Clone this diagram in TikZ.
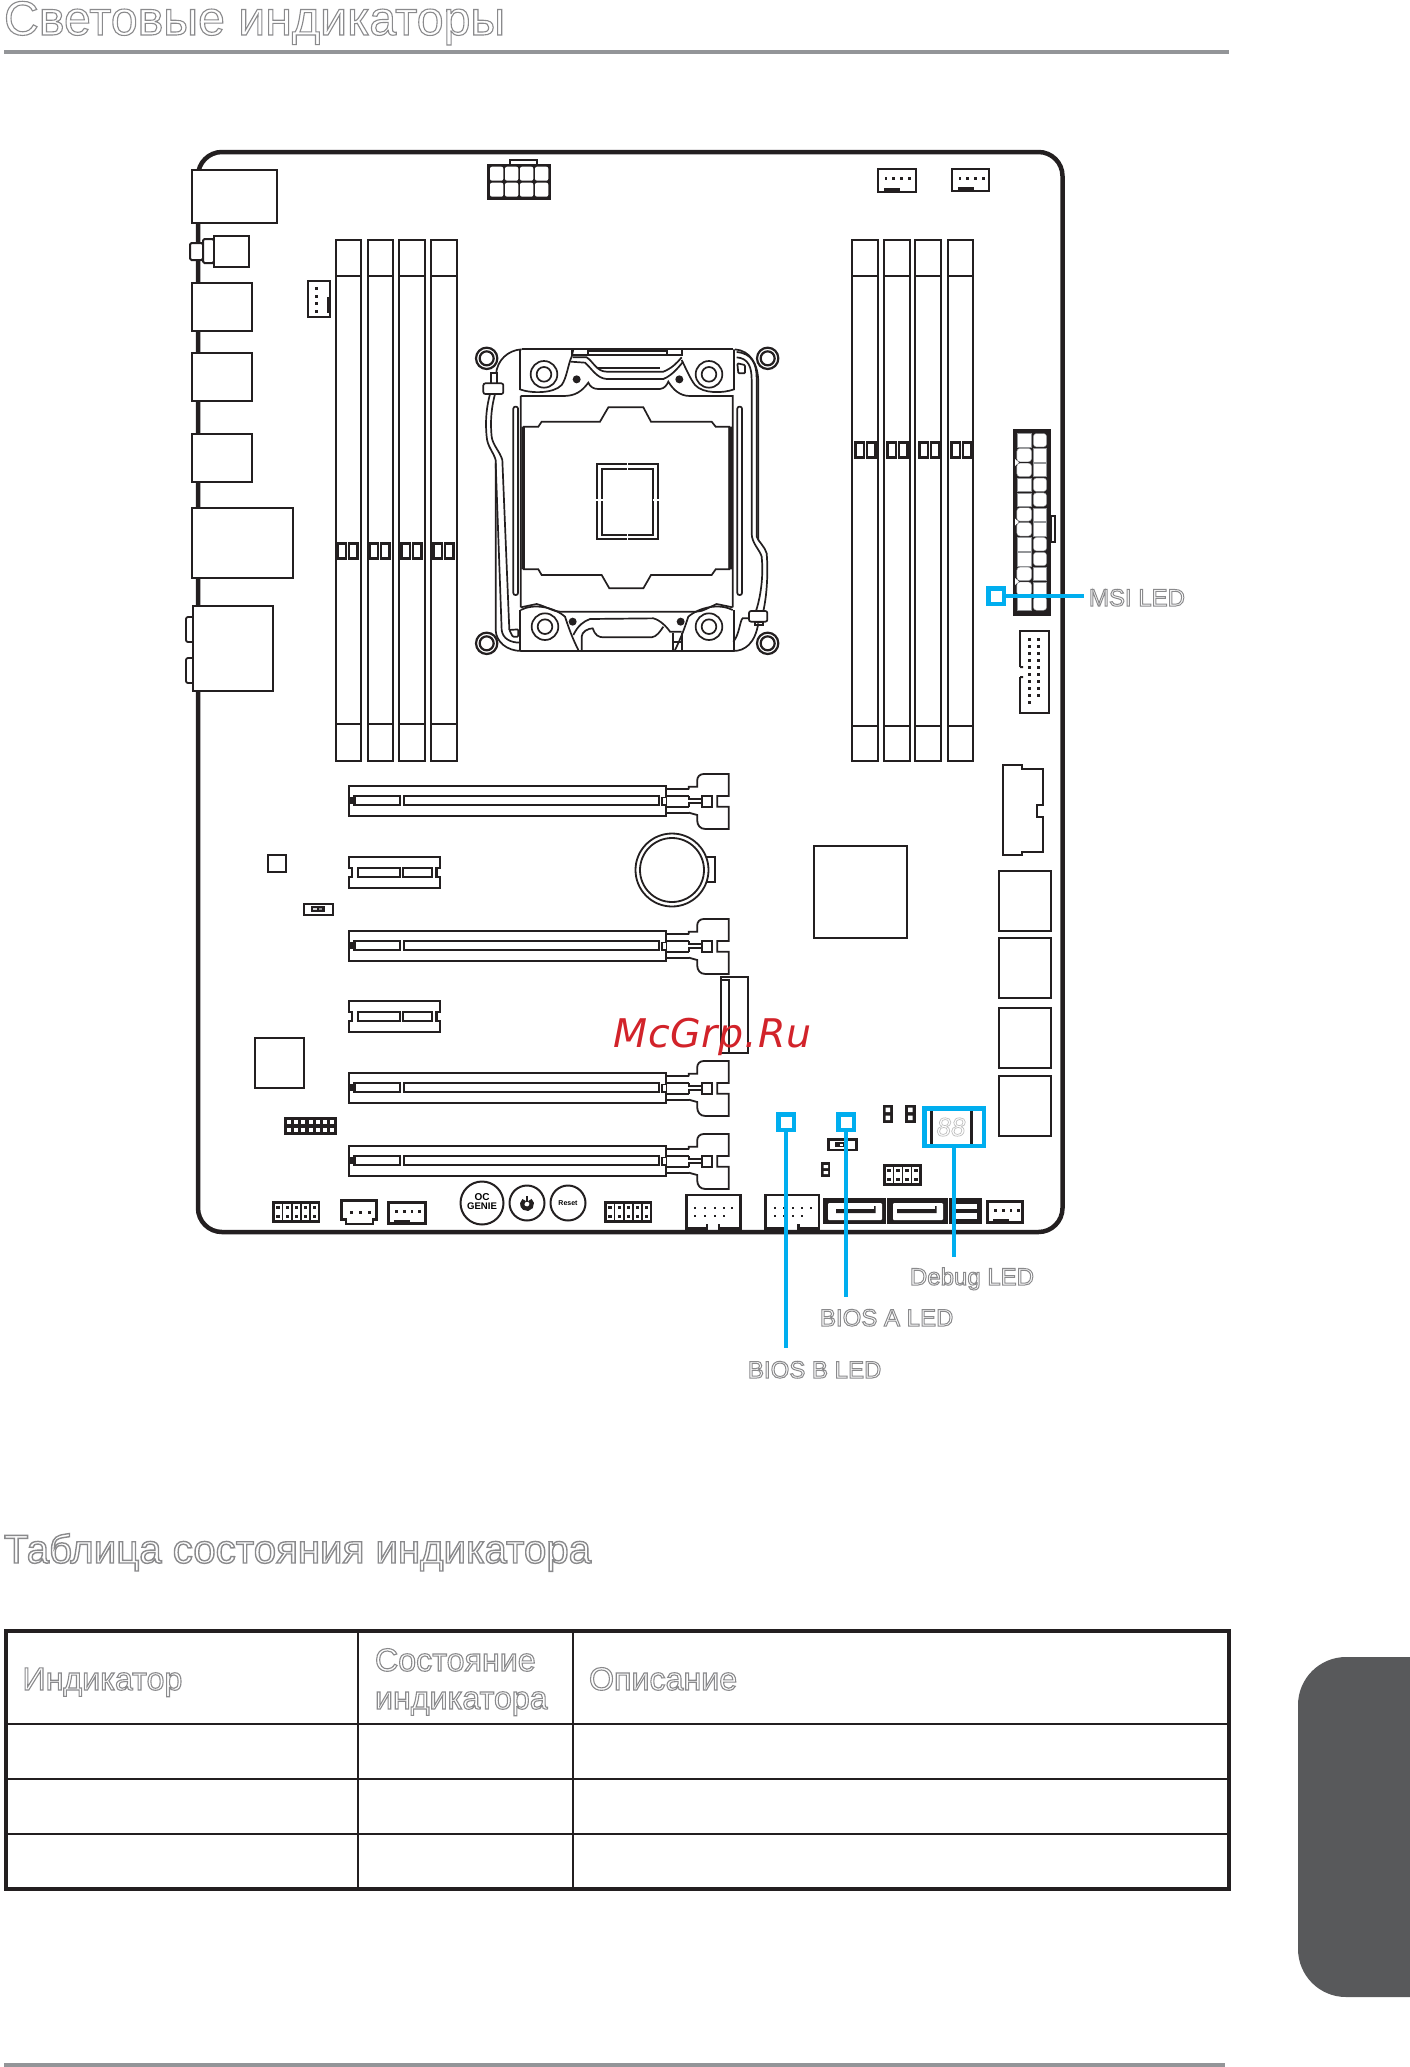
\documentclass[tikz,border=0pt]{standalone}
\usepackage{fontspec}
\setmainfont{Liberation Sans}
\newfontfamily\wmfont[LetterSpace=2]{DejaVu Sans Oblique}
\definecolor{ink}{HTML}{231F20}
\definecolor{ledblue}{HTML}{00AEEF}
\definecolor{rulegrey}{HTML}{939598}
\definecolor{labgrey}{HTML}{8A8A8C}
\definecolor{tabgrey}{HTML}{58595B}
\definecolor{wmred}{HTML}{D2232A}
\newcommand\hollow[2]{\special{pdf:code 1 Tr #1 w}#2\special{pdf:code 0 Tr}}
\newcommand\fs[1]{\fontsize{#1}{#1}\selectfont}
\tikzset{
  lab/.style={anchor=base west,inner sep=0pt,outer sep=0pt,text=labgrey},
  bx/.style={draw=ink,line width=2.5pt,fill=white},
  thinbx/.style={draw=ink,line width=1.8pt,fill=white},
  ledbox/.style={draw=ledblue,line width=4.5pt,inner sep=0pt,rectangle},
  ledline/.style={draw=ledblue,line width=3.6pt},
  cpu/.style={draw=ink,line width=1.7pt},
  btn/.style={draw=ink,line width=2pt,circle,inner sep=0pt,fill=white},
}
\newcommand\bigslot[1]{\begin{scope}[shift={(330.5,#1)},scale=1/3]
 \draw[ink,line width=2.2pt,fill=white] (55,78) rectangle (1007,168);
 \draw[ink,line width=2.5pt] (72,108) rectangle (208,135) (220,108) rectangle (985,135);
 \fill[ink] (57,112) rectangle (72,132);
 \draw[ink,line width=1.5pt,fill=white] (1007,112) -- (995,112) -- (995,135) -- (1007,135);
 \draw[ink,line width=1.8pt] (1007,88) -- (1075,88) (1007,108) -- (1075,108) (1007,142) -- (1075,142) (1007,158) -- (1075,158);
 \draw[ink,line width=1.8pt] (1075,88) -- (1075,80) -- (1100,80) -- (1100,62) .. controls (1100,50) and (1108,42) .. (1120,42) -- (1195,42) -- (1195,108) -- (1160,108) -- (1160,140) -- (1195,140) -- (1195,207) -- (1125,207) .. controls (1110,207) and (1100,197) .. (1100,180) -- (1100,165) -- (1075,158);
 \draw[ink,line width=1.8pt] (1075,108) -- (1075,118) -- (1115,118) (1075,142) -- (1075,130) -- (1115,130);
 \draw[ink,line width=1.8pt] (1115,108) rectangle (1145,140);
\end{scope}}
\newcommand\smallslot[1]{\begin{scope}[shift={(330.5,#1)},scale=1/3]
 \draw[ink,line width=2.2pt,fill=white] (55,290) -- (328,290) -- (328,325) -- (318,325) -- (318,350) -- (328,350) -- (328,385) -- (55,385) -- (55,350) -- (65,350) -- (65,325) -- (55,325) -- cycle;
 \draw[ink,line width=2.4pt] (82,324) rectangle (208,351);
 \draw[ink,line width=2pt] (218,324) rectangle (305,351);
\end{scope}}
\newcommand\dimm[3]{%
 \draw[ink,line width=2.6pt,fill=white] (#1,240) rectangle (#2,761);
 \draw[ink,line width=2pt] (#1,276) -- (#2,276) (#1,#3) -- (#2,#3);}
\newcommand\dimmclip[2]{%
 \draw[ink,line width=2.2pt] (#1,#2) rectangle ++(8.5,15);
 \draw[ink,line width=2.2pt] ({#1+11.5},#2) rectangle ++(8.5,15);}
\newcommand\pinhdr[5]{%
 \draw[ink,line width=2.4pt,fill=white] (#1,#2) rectangle ++({#3*#4},#5);
 \foreach \i in {1,...,#3}{
   \ifnum\i<#3 \draw[ink,line width=1.6pt] ({#1+\i*#4},#2) -- ++(0,#5);\fi
   \fill[ink] ({#1+(\i-.5)*#4-1.6},{#2+#5*.25-1.5}) rectangle ++(3.2,3);
   \fill[ink] ({#1+(\i-.5)*#4-1.6},{#2+#5*.72-1.5}) rectangle ++(3.2,3);
 }}
\newcommand\fanhdr[4]{%
 \draw[ink,line width=2.4pt,fill=white] (#1,#2) rectangle ++(#3,#4);
 \foreach \i in {0,1,2,3} \fill[ink] ({#1+6.5+\i*7.8},{#2+9-1.5}) rectangle ++(2.8,3);
 \fill[ink] ({#1+5.5},{#2+#4-4}) rectangle ++(16,4);}
\begin{document}
\begin{tikzpicture}[x=1pt,y=-1pt]
\useasboundingbox (0,0) rectangle (1410,2067);
\fill[white] (0,0) rectangle (1410,2067);
\node[minimum size=1pt] (t0) at (100,100) {};
\path[pa/.style={}] (t0.south) -- (1,1);
\node[lab] (title) at (4,35) {\fs{48.3}\hollow{1.1}{Световые индикаторы}};
\fill[rulegrey] (4,50) rectangle (1229,54);
\draw[ink,line width=4.5pt,rounded corners=24pt] (198,152) rectangle (1062.5,1232);
\draw[bx] (192,170) rectangle (277,223);
\draw[ink,line width=2pt,fill=white,rounded corners=1.5pt] (190,243) rectangle (203,260);
\draw[ink,line width=2pt,fill=white,rounded corners=1.5pt] (203,239) rectangle (214,263);
\draw[bx] (214,236) rectangle (249,267);
\draw[bx] (192,283) rectangle (252,331);
\draw[bx] (192,353) rectangle (252,401);
\draw[bx] (192,434) rectangle (252,482);
\draw[bx,line width=2.8pt] (192,508) rectangle (293,578);
\draw[ink,line width=1.8pt,fill=white,rounded corners=2pt] (186,617) rectangle (195,642);
\draw[ink,line width=1.8pt,fill=white,rounded corners=2pt] (186,658) rectangle (195,683);
\draw[bx,line width=2pt] (193,606) rectangle (273,691);
\path[pb/.style={}] (t0.south) -- (1,1);
\draw[ink,line width=1.8pt,fill=white] (510,160) rectangle (537,166);
\fill[ink] (486.7,164) rectangle (551,200);
\foreach \c in {0,1,2,3}{
  \fill[white,rounded corners=2pt] ({490+\c*15},166.7) rectangle ++(13.3,14);
  \fill[white,rounded corners=2pt] ({490+\c*15},182.7) rectangle ++(13.3,14);
}
\fanhdr{878}{169}{38}{23}
\fanhdr{952}{169}{37}{22}
\path[pc/.style={}] (t0.south) -- (1,1);
\draw[ink,line width=2.2pt,fill=white] (308,281) rectangle (330,317);
\foreach \yy in {287,295,302,310} \fill[ink] (314.5,\yy) rectangle ++(3,3);
\fill[ink] (326.5,297) rectangle (329,313);
\dimm{336}{361}{724}\dimm{368}{393}{724}\dimm{399}{425}{724}\dimm{431}{457}{724}
\dimm{852}{878}{726}\dimm{884}{910}{726}\dimm{915}{941}{726}\dimm{948}{973}{726}
\foreach \xx in {337.5,369.5,401.5,433.5} \dimmclip{\xx}{543.5}
\foreach \xx in {855.5,887.5,919.5,951.5} \dimmclip{\xx}{442.5}
\path[pd/.style={}] (t0.south) -- (1,1);
\begin{scope}[shift={(450,320)},scale=1/3]
 \foreach \p in {(110,115),(953,115),(110,970),(953,970)}{
   \draw[ink,line width=2.2pt] \p circle (32);
   \draw[ink,line width=2.2pt] \p circle (21);
 }
 \draw[cpu] (215,88) -- (850,88);
 \draw[cpu] (215,88) .. controls (175,90) and (140,120) .. (138,165);
 \draw[cpu] (855,88) .. controls (900,92) and (925,130) .. (925,190) -- (925,660);
 \draw[cpu] (137,420) -- (137,930) .. controls (138,965) and (170,993) .. (215,993) -- (850,993) .. controls (885,993) and (915,970) .. (925,910);
 \draw[cpu] (210,88) -- (210,208) .. controls (240,220) and (310,222) .. (335,195) .. controls (350,175) and (355,130) .. (365,110) -- (370,88);
 \draw[cpu] (852,88) -- (852,208) .. controls (820,220) and (760,222) .. (735,195) .. controls (720,175) and (710,150) .. (695,120);
 \draw[cpu] (212,228) -- (340,228) .. controls (375,228) and (395,215) .. (415,188) .. controls (420,200) and (430,207) .. (445,207) -- (630,207) .. controls (645,205) and (650,195) .. (655,185) .. controls (670,210) and (690,228) .. (720,228) -- (848,228) -- (848,862) (212,228) -- (212,862);
 \draw[cpu] (368,112) -- (410,112) .. controls (430,125) and (440,155) .. (470,155) -- (640,155) .. controls (665,145) and (680,130) .. (695,112);
 \draw[cpu] (362,125) -- (405,128) .. controls (425,145) and (440,175) .. (470,177) -- (640,177) .. controls (670,165) and (690,135) .. (700,125);
 \draw[cpu] (445,143) -- (630,143) (415,92) -- (650,92) (415,105) -- (650,105);
 \draw[cpu] (365,88) rectangle (415,105) (650,88) rectangle (695,105);
 \draw[cpu] (222,320) -- (265,320) -- (275,305) -- (450,305) -- (475,262) -- (580,262) -- (603,305) -- (785,305) -- (797,320) -- (838,320) -- (838,748) -- (797,748) -- (785,765) -- (603,765) -- (580,805) -- (478,805) -- (455,765) -- (275,765) -- (265,748) -- (222,748) -- cycle;
 \fill[ink] (214,320) rectangle (224,748) (836,320) rectangle (846,748);
 \draw[cpu,rounded corners=2pt] (190,260) rectangle (204,825);
 \draw[cpu,rounded corners=2pt] (862,260) rectangle (876,825);
 \draw[ink,line width=1.8pt] (440,432) rectangle (625,658);
 \draw[ink,line width=2.2pt] (456,447) rectangle (610,645);
 \draw[white,line width=1.5pt] (532,430) -- (532,449) (532,643) -- (532,660) (438,540) -- (458,540) (608,540) -- (627,540);
 \foreach \p in {(282,163),(777,163),(285,920),(777,920)}{
   \draw[cpu] \p circle (40);
   \draw[cpu] \p circle (22);
 }
 \foreach \p in {(380,178),(688,178),(368,905),(692,905)} \fill[ink] \p circle (12);
 \draw[cpu,fill=white] (122,160) rectangle (140,192);
 \draw[cpu,fill=white,rounded corners=2pt] (100,190) rectangle (160,222);
 \draw[cpu] (120,222) .. controls (110,260) and (105,300) .. (110,350) .. controls (112,380) and (130,395) .. (137,420);
 \draw[cpu] (135,222) .. controls (125,260) and (120,300) .. (125,350) .. controls (128,375) and (150,395) .. (157,420) -- (178,930);
 \draw[cpu] (137,430) -- (155,930) .. controls (158,955) and (180,968) .. (210,968);
 \draw[cpu,rounded corners=1pt] (178,930) -- (205,928) -- (205,950) -- (188,950) -- cycle;
 \draw[cpu] (860,112) .. controls (895,115) and (905,140) .. (905,180) -- (905,640) .. controls (905,670) and (930,690) .. (935,710) .. controls (940,760) and (935,820) .. (918,873);
 \draw[cpu] (860,96) .. controls (905,100) and (920,130) .. (920,175) -- (920,650) .. controls (925,665) and (945,680) .. (950,700) .. controls (955,760) and (950,830) .. (940,873);
 \draw[cpu,rounded corners=1pt] (862,130) -- (885,135) -- (885,160) -- (865,160) -- cycle;
 \draw[cpu,fill=white,rounded corners=2pt] (897,873) rectangle (952,905);
 \draw[cpu] (897,895) -- (878,895) .. controls (870,900) and (868,945) .. (850,965);
 \draw[cpu] (915,905) rectangle (940,915);
 \draw[cpu] (212,870) .. controls (250,850) and (310,860) .. (345,890) .. controls (355,920) and (365,950) .. (385,990);
 \draw[cpu] (848,870) .. controls (810,850) and (750,860) .. (715,890) .. controls (705,920) and (695,950) .. (675,990);
 \draw[cpu] (212,862) -- (260,852) .. controls (290,860) and (310,875) .. (330,875) -- (740,875) .. controls (760,875) and (780,860) .. (800,852) -- (848,862);
 \draw[cpu] (210,870) -- (210,993) (852,870) -- (852,993);
 \draw[cpu] (370,945) .. controls (385,915) and (400,905) .. (420,897) -- (610,895) .. controls (630,900) and (650,920) .. (660,935) -- (695,935);
 \draw[cpu] (395,990) -- (395,950) .. controls (395,935) and (415,925) .. (428,925) .. controls (435,945) and (445,952) .. (460,952) -- (605,952) .. controls (620,950) and (630,935) .. (640,920);
 \draw[cpu] (670,940) -- (670,990) (695,940) -- (695,990) (672,965) -- (695,965);
\end{scope}
\path[pe/.style={}] (t0.south) -- (1,1);
\fill[ink] (1013.3,429.3) rectangle (1050.7,615.7);
\draw[ink,line width=1.8pt,fill=white] (1051,516) rectangle (1055,542);
\foreach \r/\ra/\rb in {0/0/3,1/3/0,2/3/0,3/0/3,4/0/3,5/3/0,6/3/0,7/0/3,8/0/3,9/3/0,10/3/0,11/0/3}{
  \path[draw=rulegrey,line width=.4pt,fill=white,rounded corners=\ra pt] (1016.9,{433.5+\r*14.85}) rectangle ++(14.6,13.4);
  \path[draw=rulegrey,line width=.4pt,fill=white,rounded corners=\rb pt] (1033.4,{433.5+\r*14.85}) rectangle ++(13.2,13.4);
}
\foreach \yy in {462.5,522,581.5} \fill[white] (1015,{\yy-3.5}) -- (1019,\yy) -- (1015,{\yy+3.5}) -- cycle;
\draw[ink,line width=2.2pt,fill=white] (1020,667) -- (1020,631) -- (1049,631) -- (1049,713) -- (1020,713) -- (1020,677);
\fill[ink] (1020,666) rectangle (1023,668) (1020,676) rectangle (1023,678);
\foreach \i in {0,...,9}{
  \fill[ink] (1028,{637.5+\i*7.1}) rectangle ++(3,3);
  \ifnum\i<9 \fill[ink] (1037,{637.5+\i*7.1}) rectangle ++(3,3);\fi
}
\path[pf/.style={}] (t0.south) -- (1,1);
\draw[thinbx] (1003,765) -- (1022,765) -- (1022,769) -- (1043,769) -- (1043,805) -- (1037,805) -- (1037,817) -- (1043,817) -- (1043,852) -- (1022,852) -- (1022,855) -- (1003,855) -- cycle;
\foreach \yy in {871,938,1008,1076}
  \draw[ink,line width=2.2pt,fill=white] (999,\yy) rectangle ++(52,60);
\path[pg/.style={}] (t0.south) -- (1,1);
\bigslot{760}\bigslot{905}\bigslot{1047}\bigslot{1120}
\smallslot{760}\smallslot{904}
\path[ph/.style={}] (t0.south) -- (1,1);
\draw[ink,line width=1.8pt,fill=white] (706,857) -- (715,857) -- (715,882) -- (706,882);
\draw[ink,line width=1.8pt,fill=white] (672,870) circle (36.5);
\draw[ink,line width=1.8pt] (672,870) circle (32);
\draw[thinbx] (814,846) rectangle (907,938);
\draw[bx] (255,1038) rectangle (304,1088);
\draw[ink,line width=2.6pt] (268,855) rectangle (286,872);
\draw[ink,line width=2.4pt,fill=white] (304,904) rectangle (333,915);
\fill[ink] (311,906) rectangle (325,912);
\fill[rulegrey!40] (313,908) rectangle (317,910);
\fill[rulegrey] (319,908) rectangle (322,910);
\draw[ink,line width=1.8pt] (721,977) rectangle (748,1053);
\draw[ink,line width=1.5pt] (729,1053) -- (729,980) -- (721,980);
\fill[ink] (284,1117) rectangle (337,1135);
\foreach \c in {0,...,6}{
  \fill[white] ({287+\c*7.2},1120) rectangle ++(4,4.2);
  \fill[white] ({287+\c*7.2},1128) rectangle ++(4,4.2);
}
\pinhdr{273.5}{1202.5}{5}{9.1}{19}
\pinhdr{605.5}{1202.5}{5}{9.1}{19}
\draw[ink,line width=2.2pt,fill=white] (341.5,1200.5) -- (376.5,1200.5) -- (376.5,1219.5) -- (373,1219.5) -- (373,1224) -- (346,1224) -- (346,1219.5) -- (341.5,1219.5) -- cycle;
\foreach \xx in {350,359,368} \fill[ink] (\xx,1211) rectangle ++(2.6,2.6);
\fanhdr{388.5}{1202.5}{37}{21}
\path[pi/.style={}] (t0.south) -- (1,1);
\node[btn,minimum size=43pt] (ocg) at (482,1203) {};
\node[inner sep=0pt] (octext) at (482,1197) {\fs{10}\bfseries OC};
\node[inner sep=0pt] (gentext) at (482,1206.5) {\fs{9.6}\bfseries GENIE};
\node[btn,minimum size=35pt] (pwr) at (527,1203) {};
\draw[ink,line width=4.2pt] (527,1204) ++(-55:4.8) arc[start angle=-55,end angle=235,radius=4.8];
\draw[ink,line width=2.4pt] (527,1196) -- (527,1202);
\node[btn,minimum size=35pt] (rst) at (568,1203) {};
\node[inner sep=0pt] (rsttext) at (568,1203) {\fs{7}\bfseries Reset};
\path[pj/.style={}] (t0.south) -- (1,1);
\draw[ink,line width=2.2pt,fill=white] (707,1224) -- (707,1228.5) -- (686.5,1228.5) -- (686.5,1195) -- (740.5,1195) -- (740.5,1228.5) -- (719,1228.5) -- (719,1224);
\foreach \xx in {694,704,714,723,731} \fill[ink] (\xx,1207) rectangle ++(2.4,2.4);
\foreach \xx in {694,704,714,723} \fill[ink] (\xx,1215) rectangle ++(2.4,2.4);
\draw[ink,line width=2.2pt,fill=white] (786,1224) -- (786,1228.5) -- (765.5,1228.5) -- (765.5,1195) -- (819,1195) -- (819,1228.5) -- (798.5,1228.5) -- (798.5,1224);
\foreach \xx in {774,783,792,801,810} \fill[ink] (\xx,1207) rectangle ++(2.4,2.4);
\foreach \xx in {774,783,792,801} \fill[ink] (\xx,1215) rectangle ++(2.4,2.4);
\fill[ink] (823,1198) rectangle (886,1224);
\fill[ink] (887,1198) rectangle (948,1224);
\fill[ink] (949,1198) rectangle (982,1224);
\fill[white,rounded corners=1pt] (828,1203) rectangle (882,1220);
\fill[white,rounded corners=1pt] (893,1203) rectangle (943,1220);
\fill[white] (952,1204) rectangle (977,1219);
\fill[ink] (836,1209) rectangle (875,1213) (874,1206) rectangle (875.5,1213);
\fill[ink] (897,1209) rectangle (936,1213) (935,1206) rectangle (936.5,1213);
\fill[ink] (956,1209) rectangle (977,1213);
\fanhdr{987.5}{1201.5}{35}{21}
\fill[ink] (883,1105) rectangle (893,1123);
\fill[white] (885.5,1107.5) rectangle ++(4.5,4.5) (885.5,1115.5) rectangle ++(4.5,4.5);
\fill[ink] (905,1105) rectangle (916,1123);
\fill[white] (908,1107.5) rectangle ++(4.5,4.5) (908,1115.5) rectangle ++(4.5,4.5);
\draw[ink,line width=2.2pt,fill=white] (828.5,1139.5) rectangle (856.5,1150);
\fill[ink] (835,1142) rectangle (848,1147);
\fill[white] (840,1143.5) rectangle (843,1145.5);
\fill[ink] (821,1162) rectangle (830,1177);
\fill[white] (823.5,1165) rectangle (828,1168) (823.5,1171) rectangle (828,1174);
\pinhdr{884.5}{1165.5}{4}{9}{19}
\fill[ink] (930,1110) rectangle (932.5,1144);
\fill[ink] (970,1110) rectangle (973,1144);
\path[pk/.style={}] (t0.south) -- (1,1);
\node[inner sep=0pt,text=black!25] (dbgdigits) at (951,1127) {\fs{26}\itshape\hollow{.7}{88}};
\node[anchor=base west,inner sep=0pt,text=wmred] (wm) at (613,1047) {\wmfont\fs{39.5}McGrp.Ru};
\path[pl/.style={}] (t0.south) -- (1,1);
\node[ledbox,minimum size=15.5pt] (biosb) at (786,1122) {};
\node[ledbox,minimum size=15.5pt] (biosa) at (846,1122) {};
\node[ledbox,minimum width=59.5pt,minimum height=37.5pt] (debug) at (954,1127) {};
\node[ledbox,minimum size=15.5pt] (msi) at (996,596) {};
\coordinate (biosbend) at (786,1348);
\coordinate (biosaend) at (846,1297);
\coordinate (debugend) at (954,1257);
\coordinate (msiend) at (1084,596);
\path[pm/.style={}] (t0.south) -- (1,1);
\draw[ledline] (biosb.south) -- (biosbend);
\draw[ledline] (biosa.south) -- (biosaend);
\draw[ledline] (debug.south) -- (debugend);
\draw[ledline] (msi.east) -- (msiend);
\node[lab] (msilab) at (1089,606) {\fs{24}\hollow{1}{MSI LED}};
\node[lab] (debuglab) at (910,1285) {\fs{24}\hollow{1}{Debug LED}};
\node[lab] (biosalab) at (820,1326) {\fs{24}\hollow{1}{BIOS A LED}};
\node[lab] (biosblab) at (748,1378) {\fs{24}\hollow{1}{BIOS B LED}};
\node[lab] (title2) at (4,1563) {\fs{40.2}\hollow{1.4}{Таблица состояния индикатора}};
\draw[ink,line width=4pt] (6,1631) rectangle (1229,1889);
\draw[ink,line width=2pt] (358,1631) -- (358,1889) (573,1631) -- (573,1889);
\draw[ink,line width=2pt] (6,1724) -- (1229,1724) (6,1779) -- (1229,1779) (6,1834) -- (1229,1834);
\node[lab] (th1) at (22.5,1690) {\fs{32.2}\hollow{1.1}{Индикатор}};
\node[lab] (th2a) at (375,1671) {\fs{32.2}\hollow{1.1}{Состояние}};
\node[lab] (th2b) at (375,1709) {\fs{32.2}\hollow{1.1}{индикатора}};
\node[lab] (th3) at (589,1690) {\fs{32.2}\hollow{1.1}{Описание}};
\fill[tabgrey,rounded corners=48pt] (1298,1657) rectangle (1500,1997);
\fill[rulegrey] (4,2063) rectangle (1225,2067);
\end{tikzpicture}
\end{document}
